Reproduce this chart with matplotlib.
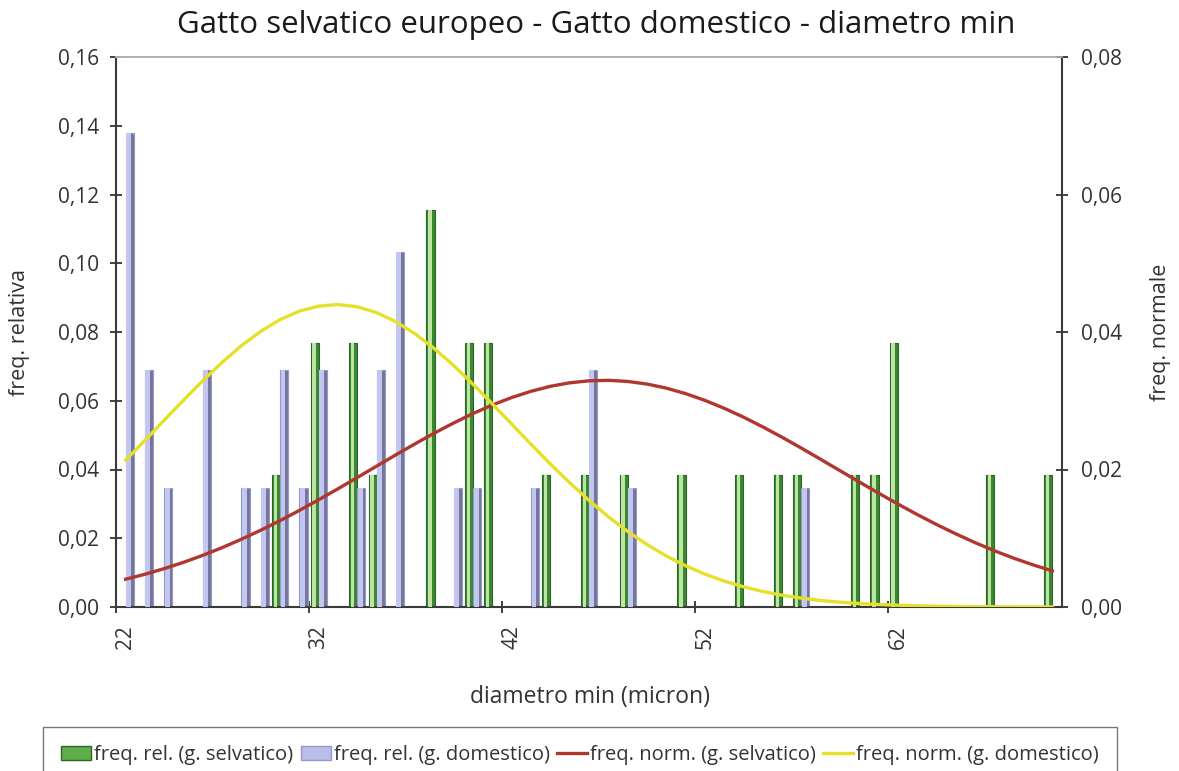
import numpy as np
import matplotlib
matplotlib.use('Agg')
import matplotlib.pyplot as plt
from matplotlib.ticker import FuncFormatter, FixedLocator
from matplotlib.patches import Patch
from matplotlib.lines import Line2D

plt.rcParams['font.family'] = ['Open Sans', 'DejaVu Sans']

# categorie asse x (diametro min, micron)
diametro = list(range(22, 71))

# freq. relativa gatto selvatico (barre verdi)
sel_diam = [30, 32, 34, 35, 38, 40, 41, 44, 46, 48, 51, 54, 56, 57, 60, 61, 62, 67, 70]
sel_freq = [0.0385, 0.0769, 0.0769, 0.0385, 0.1154, 0.0769, 0.0769, 0.0385, 0.0385, 0.0385,
            0.0385, 0.0385, 0.0385, 0.0385, 0.0385, 0.0385, 0.0769, 0.0385, 0.0385]

# freq. relativa gatto domestico (barre blu)
dom_diam = [22, 23, 24, 26, 28, 29, 30, 31, 32, 34, 35, 36, 39, 40, 43, 46, 48, 57]
dom_freq = [0.1379, 0.0690, 0.0345, 0.0690, 0.0345, 0.0345, 0.0690, 0.0345, 0.0690, 0.0345,
            0.0690, 0.1034, 0.0345, 0.0345, 0.0345, 0.0690, 0.0345, 0.0345]

norm_sel = [0.00404, 0.00476, 0.00559, 0.00650, 0.00752, 0.00864, 0.00986, 0.01117, 0.01257, 0.01405,
            0.01560, 0.01720, 0.01884, 0.02049, 0.02214, 0.02375, 0.02531, 0.02678, 0.02815, 0.02939,
            0.03047, 0.03138, 0.03210, 0.03261, 0.03290, 0.03297, 0.03281, 0.03243, 0.03184, 0.03104,
            0.03006, 0.02891, 0.02762, 0.02620, 0.02469, 0.02311, 0.02148, 0.01983, 0.01819, 0.01656,
            0.01498, 0.01345, 0.01200, 0.01064, 0.00936, 0.00818, 0.00710, 0.00613, 0.00525]
norm_dom = [0.02137, 0.02424, 0.02718, 0.03010, 0.03293, 0.03560, 0.03802, 0.04011, 0.04180, 0.04304,
            0.04377, 0.04399, 0.04367, 0.04282, 0.04150, 0.03972, 0.03756, 0.03509, 0.03238, 0.02952,
            0.02659, 0.02366, 0.02080, 0.01807, 0.01550, 0.01313, 0.01100, 0.00910, 0.00743, 0.00600,
            0.00479, 0.00377, 0.00294, 0.00226, 0.00172, 0.00129, 0.00095, 0.00070, 0.00051, 0.00036,
            0.00026, 0.00018, 0.00012, 0.00008, 0.00006, 0.00004, 0.00002, 0.00002, 0.00001]

x_labels = [22, 32, 42, 52, 62]

virgola = FuncFormatter(lambda v, p: ('%.2f' % v).replace('.', ','))

fig = plt.figure(figsize=(11.79, 7.71), dpi=100)
ax = fig.add_axes([116/1179, 1-607/771, 946/1179, 550/771])
ax2 = ax.twinx()

w = 0.42
sx = np.array(sel_diam) - w/2
bx = np.array(dom_diam) + w/2
# barre verdi con effetto rilievo
ax.bar(sx, sel_freq, width=w, color='#3a8832', edgecolor='#2b6626', linewidth=0.8, zorder=2)
ax.bar(sx - w*0.08, sel_freq, width=w*0.42, color='#bde4a3', linewidth=0, zorder=3)
# barre blu con effetto rilievo
ax.bar(bx, dom_freq, width=w, color='#74779a', edgecolor='#9599c8', linewidth=0.8, zorder=2)
ax.bar(bx - w*0.14, dom_freq, width=w*0.6, color='#c2c6f0', linewidth=0, zorder=3)

ax2.plot(diametro, norm_sel, color='#b0372f', lw=2.4, zorder=4)
ax2.plot(diametro, norm_dom, color='#e6e02a', lw=2.4, zorder=4)

ax.set_xlim(21.5, 70.5)
ax.set_ylim(0, 0.16)
ax2.set_ylim(0, 0.08)
ax.set_yticks(np.arange(0, 0.161, 0.02))
ax2.set_yticks(np.arange(0, 0.081, 0.02))
ax.yaxis.set_major_formatter(virgola)
ax2.yaxis.set_major_formatter(virgola)

ax.set_xticks(x_labels)
ax.set_xticklabels([str(v) for v in x_labels], rotation=90)
ax.xaxis.set_minor_locator(FixedLocator([v - 0.5 for v in x_labels]))
ax.tick_params(axis='x', which='major', length=0, pad=13, labelsize=15, labelcolor='#333333')
ax.tick_params(axis='x', which='minor', direction='inout', length=8, width=1.3, color='#333333')
ax.tick_params(axis='y', direction='inout', length=8, width=1.3, color='#333333',
               labelsize=15, labelcolor='#333333', pad=8)
ax2.tick_params(axis='y', direction='inout', length=8, width=1.3, color='#333333',
                labelsize=15, labelcolor='#333333', pad=10)

for a in (ax, ax2):
    for s in ('left', 'bottom', 'right'):
        a.spines[s].set_color('#3a3a3a')
        a.spines[s].set_linewidth(1.5)
    a.spines['top'].set_color('#b0b0b0')
    a.spines['top'].set_linewidth(1.2)
ax.spines['right'].set_visible(False)
ax2.spines['left'].set_visible(False)
ax2.spines['bottom'].set_visible(False)

ax.set_ylabel('freq. relativa', fontsize=15.5, color='#333333')
ax.yaxis.set_label_coords(-0.091, 0.5)
ax2.set_ylabel('freq. normale', fontsize=15.5, color='#333333')
ax2.yaxis.set_label_coords(1.093, 0.5)
ax.set_xlabel('diametro min (micron)', fontsize=16.5, color='#333333')
ax.xaxis.set_label_coords(0.501, -0.142)

fig.text(596/1179, 1-25/771, 'Gatto selvatico europeo - Gatto domestico - diametro min',
         ha='center', va='center', fontsize=22.5, color='#1a1a1a')

handles = [Patch(facecolor='#5fae4a', edgecolor='#2b6626'),
           Patch(facecolor='#b9bdea', edgecolor='#9599c8'),
           Line2D([], [], color='#b0372f', lw=2.4),
           Line2D([], [], color='#e6e02a', lw=2.4)]
labels = ['freq. rel. (g. selvatico)', 'freq. rel. (g. domestico)',
          'freq. norm. (g. selvatico)', 'freq. norm. (g. domestico)']
leg = fig.legend(handles, labels, ncol=4, loc='upper left', bbox_to_anchor=(43/1179, 1-727/771),
                 fontsize=14.5, frameon=True, fancybox=False, handlelength=1.5, handletextpad=0.15,
                 columnspacing=0.35, borderpad=0.9, borderaxespad=0)
leg.get_frame().set_edgecolor('#555555')
leg.get_frame().set_linewidth(1.0)
for t in leg.get_texts():
    t.set_color('#333333')

fig.savefig('out.png', dpi=100)
